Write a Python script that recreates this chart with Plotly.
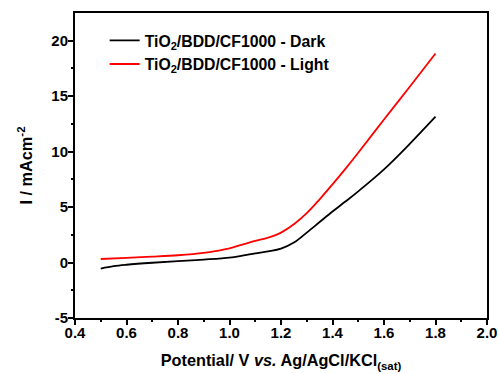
import plotly.graph_objects as go

# Data
potential_dark = [0.5, 0.55, 0.6, 0.7, 0.8, 0.9, 1.0, 1.05, 1.1, 1.15, 1.2, 1.25, 1.3, 1.35, 1.4, 1.45, 1.5, 1.6, 1.7, 1.8]
current_dark = [-0.55, -0.33, -0.2, -0.02, 0.12, 0.27, 0.45, 0.62, 0.82, 1.0, 1.25, 1.8, 2.7, 3.65, 4.6, 5.5, 6.42, 8.4, 10.7, 13.15]

potential_light = [0.5, 0.6, 0.7, 0.8, 0.9, 0.95, 1.0, 1.05, 1.1, 1.15, 1.2, 1.25, 1.3, 1.35, 1.4, 1.45, 1.5, 1.6, 1.7, 1.8]
current_light = [0.32, 0.42, 0.53, 0.66, 0.87, 1.05, 1.28, 1.62, 1.95, 2.25, 2.7, 3.45, 4.45, 5.7, 7.05, 8.45, 9.9, 12.9, 15.85, 18.85]

name_dark = "TiO<sub>2</sub>/BDD/CF1000 - Dark"
name_light = "TiO<sub>2</sub>/BDD/CF1000 - Light"

x_ticks = [0.4, 0.6, 0.8, 1.0, 1.2, 1.4, 1.6, 1.8, 2.0]
y_ticks = [-5, 0, 5, 10, 15, 20]
x_range = [0.4, 2.0]
y_range = [-5, 22.5]

FONT = "Arial, 'Liberation Sans', sans-serif"

fig = go.Figure()
fig.add_trace(go.Scatter(x=potential_dark, y=current_dark, mode="lines", name="<b>" + name_dark + "</b>",
                         line=dict(color="black", width=1.8, shape="spline", smoothing=1.0)))
fig.add_trace(go.Scatter(x=potential_light, y=current_light, mode="lines", name="<b>" + name_light + "</b>",
                         line=dict(color="red", width=1.8, shape="spline", smoothing=1.0)))

fig.update_layout(
    width=499, height=374,
    margin=dict(l=75, r=12, t=13, b=56),
    paper_bgcolor="white", plot_bgcolor="white",
    font=dict(family=FONT, color="black"),
    showlegend=True,
    legend=dict(x=0.072, y=0.965, xanchor="left", yanchor="top",
                bgcolor="rgba(0,0,0,0)", borderwidth=0,
                font=dict(family=FONT, size=15.8, color="black"),
                itemwidth=30, tracegroupgap=0),
    # primary axes: line, labels, titles
    xaxis=dict(
        range=x_range, tickvals=x_ticks, ticktext=[f"<b>{v:.1f}</b>" for v in x_ticks],
        showgrid=False, zeroline=False, automargin=False,
        showline=True, linecolor="black", linewidth=2, mirror=True,
        ticks="", tickfont=dict(family=FONT, size=15, color="black"),
        title=dict(text="<b>Potential/ V <i>vs.</i> Ag/AgCl/KCl<sub>(sat)</sub></b>",
                   font=dict(family=FONT, size=16.3, color="black")),
    ),
    yaxis=dict(
        range=y_range, tickvals=y_ticks, ticktext=[f"<b>{v}</b>" for v in y_ticks],
        showgrid=False, zeroline=False, automargin=False,
        showline=True, linecolor="black", linewidth=2, mirror=True,
        ticks="outside", ticklen=2, tickwidth=2, tickcolor="rgba(0,0,0,0)",
        tickfont=dict(family=FONT, size=15, color="black"),
        title=dict(text="<b>I / mAcm<sup>-2</sup></b>",
                   font=dict(family=FONT, size=16.3, color="black")),
    ),
    # overlay axes: tick marks only
    xaxis2=dict(
        overlaying="x", anchor="y", side="bottom", range=x_range, tickvals=x_ticks,
        showticklabels=False, showgrid=False, zeroline=False, showline=False, automargin=False,
        ticks="outside", ticklen=6, tickwidth=2, tickcolor="black",
        minor=dict(tickvals=[0.5, 0.7, 0.9, 1.1, 1.3, 1.5, 1.7, 1.9], ticks="outside",
                   ticklen=3, tickwidth=2, tickcolor="black", showgrid=False),
    ),
    yaxis2=dict(
        overlaying="y", anchor="x", side="left", range=y_range, tickvals=y_ticks,
        showticklabels=False, showgrid=False, zeroline=False, showline=False, automargin=False,
        ticks="outside", ticklen=6, tickwidth=2, tickcolor="black",
        minor=dict(tickvals=[-2.5, 2.5, 7.5, 12.5, 17.5], ticks="outside",
                   ticklen=3, tickwidth=2, tickcolor="black", showgrid=False),
    ),
)

# invisible helper trace so the overlay axes are drawn
fig.add_trace(go.Scatter(x=[None], y=[None], xaxis="x2", yaxis="y2", showlegend=False,
                         hoverinfo="skip", mode="lines"))

fig.write_html("out.html", config={"displayModeBar": False},
               post_script="document.body.style.margin='0';document.body.style.padding='0';document.body.style.overflow='hidden';")
